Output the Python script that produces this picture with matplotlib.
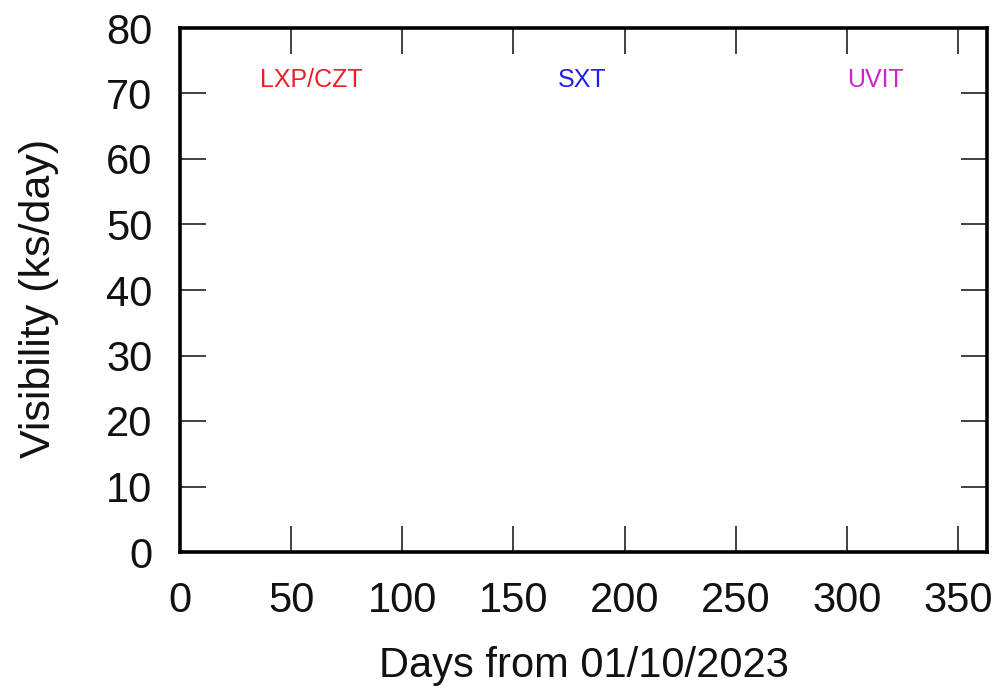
import matplotlib
matplotlib.use("Agg")
import matplotlib.pyplot as plt

x_ticks = [0, 50, 100, 150, 200, 250, 300, 350]
y_ticks = [0, 10, 20, 30, 40, 50, 60, 70, 80]
instruments = ["LXP/CZT", "SXT", "UVIT"]
inst_colors = ["#e8202a", "#2020e0", "#d020d0"]
inst_x = [59, 181, 313]
inst_y = 72
x_label = "Days from 01/10/2023"
y_label = "Visibility (ks/day)"

plt.rcParams['font.family'] = ['Liberation Sans', 'DejaVu Sans']
fig = plt.figure(figsize=(10.01, 6.88), dpi=100)
ax = fig.add_axes([180/1001, 1-552/688, (987-180)/1001, (552-28)/688])
ax.set_xlim(0, 363)
ax.set_ylim(0, 80)
ax.set_xticks(x_ticks)
ax.set_yticks(y_ticks)
ax.tick_params(direction='in', length=19, width=1.3, top=True, right=True,
               labelsize=30, colors='#333333', labelcolor='#111111')
ax.tick_params(axis='x', pad=21)
ax.tick_params(axis='y', pad=20)
for s in ax.spines.values():
    s.set_linewidth(2.6)
    s.set_color('black')
for name, c, xv in zip(instruments, inst_colors, inst_x):
    ax.text(xv, inst_y, name, color=c, fontsize=18, ha='center', va='center')
ax.set_xlabel(x_label, fontsize=30, labelpad=18, color='#111111')
ax.set_ylabel(y_label, fontsize=31, labelpad=34, color='#111111')
ax.yaxis.label.set_y(0.483)
fig.savefig("out.png", dpi=100)
